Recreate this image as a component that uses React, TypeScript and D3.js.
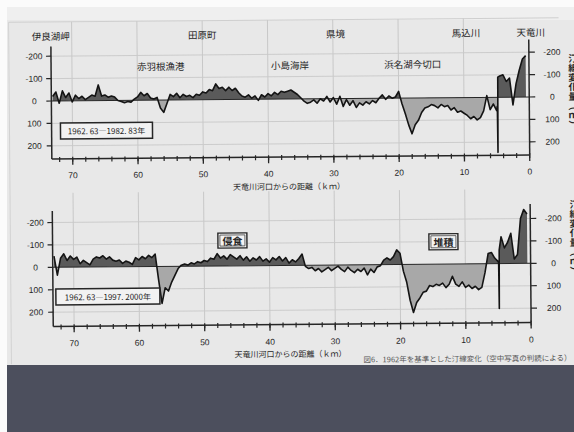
import * as d3 from "d3";

const KM_FIRST = 73;
const KM_STEP = 0.5;

const majorKm = [70, 60, 50, 40, 30, 20, 10, 0];
const minorKm = d3.range(0, 73, 2);
const yTickValues = [-200, -100, 0, 100, 200];
const gridValues = [-200, -100, 100, 200];

// shoreline change (m), read every 0.5 km from 73 km down to 0.5 km
// negative = upward on the chart
const topValues = [
  -20, -40, 10, -45, -15, -35, 5, -25, -10, -20,
  -5, -15, -25, -20, -70, -20, -25, -15, -20, -15,
  0, 5, 10, 5, 8, -5, -15, -35, -20, -30,
  -10, -5, -12, 35, 55, 15, -25, -15, -30, -10,
  -25, -15, -20, -10, -25, -20, -35, -30, -45, -40,
  -70, -50, -55, -40, -55, -40, -50, -30, -15, -10,
  -20, -5, -15, 5, -20, -10, -25, -15, -30, -20,
  -35, -30, -35, -40, -30, -20, -5, 10, 20, 15,
  5, 20, 0, 10, -10, 15, -5, 25, -10, 35,
  5, 30, 10, 40, 20, 30, 15, 25, 10, 20,
  0, -15, 5, -10, 0, -5, -30, 25, 70, 120,
  160, 120, 100, 65, 45, 40, 30, 35, 45, 30,
  40, 35, 55, 45, 65, 60, 70, 80, 95, 85,
  100, 90, 60, -8, 55, 30, 60, -95, -100, -70,
  -85, 35, -60, -120, -170, -185,
];

const bottomValues = [
  -50, 35, -40, -60, -30, -50, -35, -45, -15, -30,
  -20, -10, -35, -45, -40, -50, -35, -45, -30, -25,
  -30, -15, -25, -20, -10, -40, -30, -45, -35, -50,
  -40, -55, 60, 165, 95, 110, 70, 40, 10, -5,
  -10, -5, -15, -10, -20, -15, -25, -20, -35, -30,
  -55, -35, -45, -30, -50, -40, -30, -45, -25, -40,
  -20, -35, -25, -40, -20, -30, -15, -35, -25, -40,
  -20, -35, -10, -25, -15, -30, -50, 5, 15, 10,
  25, 15, 30, 20, 10, 25, 15, 5, 20, 30,
  10, 25, 35, 20, 30, 15, 45, 20, 35, 10,
  5, -20, -30, -20, -35, -65, -50, 30, 80, 160,
  215, 170, 150, 125, 120, 95, 100, 90, 95, 85,
  105, 90, 55, 90, 100, 80, 105, 95, 110, 100,
  115, 105, 40, -45, -50, -25, -10, -120, -70, -95,
  -135, -20, -40, -200, -240, -220,
];

// the narrow spike at the 馬込川 mouth
const topSpike: [number, number][] = [[4.9, 40], [4.85, 246], [4.8, -90]];
const bottomSpike: [number, number][] = [[4.9, -5], [4.85, 200], [4.8, -60]];

const upperPlaces = [
  { name: "伊良湖岬", km: 73.2 },
  { name: "田原町", km: 50.0 },
  { name: "県境", km: 29.6 },
  { name: "馬込川", km: 9.6 },
  { name: "天竜川", km: -0.3 },
];
const lowerPlaces = [
  { name: "赤羽根漁港", km: 56.4 },
  { name: "小島海岸", km: 36.6 },
  { name: "浜名湖今切口", km: 17.8 },
];

const topPeriod = "1962. 63―1982. 83年";
const bottomPeriod = "1962. 63―1997. 2000年";
const axisTitle = "天竜川河口からの距離（ｋｍ）";
const valueTitle = "汀線変化量（ｍ）";
const erosionTag = "侵食";
const depositTag = "堆積";
const caption = "図6．1962年を基準とした汀線変化（空中写真の判読による）";

const JP = "'Noto Sans CJK JP', 'Noto Sans', sans-serif";
const NUM = "'Liberation Sans', Arial, sans-serif";
const INK = "#262626";

type Pt = { km: number; v: number };

function toPoints(values: number[], spike: [number, number][]): Pt[] {
  const pts = values.map((v, i) => ({ km: KM_FIRST - i * KM_STEP, v }));
  spike.forEach(([km, v]) => pts.push({ km, v }));
  return pts.sort((a, b) => b.km - a.km);
}

type Layout = {
  yMinus: number; // pixel of -200
  yPlus: number; // pixel of 200
  top: number;
  bottom: number;
  gridTop: number;
  tickLabelY: number;
  titleY: number;
  sideY: number;
};

function Tag({ cx, cy, w, h, text }: { cx: number; cy: number; w: number; h: number; text: string }) {
  return (
    <g>
      <rect x={cx - w / 2} y={cy - h / 2} width={w} height={h} fill="#f3f3f3" stroke={INK} strokeWidth={1.4} />
      <rect x={cx - w / 2 + 2} y={cy - h / 2 + 2} width={w - 4} height={h - 4} fill="none" stroke={INK} strokeWidth={0.7} />
      <text x={cx} y={cy} textAnchor="middle" dominantBaseline="central" fontFamily={JP} fontSize={10} fontWeight={700} fill={INK}>
        {text}
      </text>
    </g>
  );
}

function Panel({ id, points, layout, period, box, children }: {
  id: string; points: Pt[]; layout: Layout; period: string;
  box: { x: number; y: number; w: number; h: number }; children?: any;
}) {
  const x = d3.scaleLinear().domain([0, 70]).range([530, 73]);
  const y = d3.scaleLinear().domain([-200, 200]).range([layout.yMinus, layout.yPlus]);
  const xl = x(73.2);
  const xr = x(0);
  const y0 = y(0);

  const area = d3.area<Pt>().x((d) => x(d.km)).y0(y0).y1((d) => y(d.v));
  const line = d3.line<Pt>().x((d) => x(d.km)).y((d) => y(d.v));
  const areaPath = area(points) || "";
  const linePath = line(points) || "";

  return (
    <g>
      <defs>
        <clipPath id={`${id}-neg`}>
          <rect x={xl} y={layout.top} width={xr - xl} height={y0 - layout.top} />
        </clipPath>
        <clipPath id={`${id}-pos`}>
          <rect x={xl} y={y0} width={xr - xl} height={layout.bottom - y0} />
        </clipPath>
      </defs>

      {/* grid */}
      {majorKm.filter((k) => k > 0).map((k) => (
        <line key={`vg${k}`} x1={x(k)} x2={x(k)} y1={layout.gridTop} y2={layout.bottom} stroke="#c4c4c4" strokeWidth={0.9} />
      ))}
      {gridValues.map((v) => (
        <line key={`hg${v}`} x1={xl} x2={xr} y1={y(v)} y2={y(v)} stroke="#c9c9c9" strokeWidth={0.9} />
      ))}

      {/* filled change */}
      <path d={areaPath} fill="#5a5a5a" clipPath={`url(#${id}-neg)`} />
      <path d={areaPath} fill="#a8a8a8" clipPath={`url(#${id}-pos)`} />
      <line x1={xl} x2={xr} y1={y0} y2={y0} stroke={INK} strokeWidth={1} />
      <path d={linePath} fill="none" stroke="#141414" strokeWidth={1.6} strokeLinejoin="round" />

      {/* axes */}
      <line x1={xl} x2={xl} y1={layout.top} y2={layout.bottom} stroke={INK} strokeWidth={1.5} />
      <line x1={xr} x2={xr} y1={layout.top - 3} y2={layout.bottom} stroke={INK} strokeWidth={1.5} />
      <line x1={xl} x2={xr} y1={layout.bottom} y2={layout.bottom} stroke={INK} strokeWidth={1.5} />

      {yTickValues.map((v) => (
        <g key={`yt${v}`}>
          <line x1={xl - 5} x2={xl} y1={y(v)} y2={y(v)} stroke={INK} strokeWidth={1.2} />
          <line x1={xr} x2={xr + 6} y1={y(v)} y2={y(v)} stroke={INK} strokeWidth={1.2} />
          <text x={35} y={y(v)} textAnchor="middle" dominantBaseline="central" fontFamily={NUM} fontSize={8.5} fill={INK}>
            {v < 0 ? `-${-v}` : v}
          </text>
          <text x={553} y={y(v)} textAnchor="middle" dominantBaseline="central" fontFamily={NUM} fontSize={8.5} fill={INK}>
            {v < 0 ? `-${-v}` : v}
          </text>
        </g>
      ))}

      {minorKm.map((k) => (
        <line key={`mt${k}`} x1={x(k)} x2={x(k)} y1={layout.bottom - 2} y2={layout.bottom + 3} stroke={INK} strokeWidth={1.2} />
      ))}
      {majorKm.map((k) => (
        <g key={`xt${k}`}>
          <line x1={x(k)} x2={x(k)} y1={layout.bottom} y2={layout.bottom + 6} stroke={INK} strokeWidth={1.3} />
          <text x={x(k)} y={layout.tickLabelY} textAnchor="middle" fontFamily={NUM} fontSize={8.5} fill={INK}>
            {k}
          </text>
        </g>
      ))}

      <text x={289} y={layout.titleY} textAnchor="middle" fontFamily={JP} fontSize={8} fill={INK}>
        {axisTitle}
      </text>
      <text x={574} y={layout.sideY} textAnchor="middle" fontFamily={JP} fontSize={9.5} fontWeight={700} fill={INK}
        style={{ writingMode: "vertical-rl" }}>
        {valueTitle}
      </text>

      <rect x={box.x} y={box.y} width={box.w} height={box.h} fill="#f2f2f2" stroke={INK} strokeWidth={1.5} />
      <text x={box.x + box.w / 2} y={box.y + box.h / 2} textAnchor="middle" dominantBaseline="central"
        fontFamily={JP} fontSize={8} fill={INK}>
        {period}
      </text>
      {children}
    </g>
  );
}

export default function App() {
  const x = d3.scaleLinear().domain([0, 70]).range([530, 73]);
  const topPts = toPoints(topValues, topSpike);
  const bottomPts = toPoints(bottomValues, bottomSpike);

  const topLayout: Layout = {
    yMinus: 54.2, yPlus: 143.8, top: 44.5, bottom: 157, gridTop: 20,
    tickLabelY: 176.5, titleY: 189.5, sideY: 94,
  };
  const bottomLayout: Layout = {
    yMinus: 220.5, yPlus: 310.2, top: 209, bottom: 324.5, gridTop: 191,
    tickLabelY: 344.5, titleY: 357, sideY: 240,
  };

  return (
    <svg width={574} height={432} style={{ position: "absolute", left: 0, top: 0, display: "block" }}>
      <rect x={0} y={0} width={574} height={432} fill="#fbfbfb" />
      <rect x={7} y={7} width={567} height={358} fill="#e8e8e8" />
      <rect x={7} y={7} width={567} height={13} fill="#efefef" />
      <g transform="rotate(-0.48, 291, 190)">
        <line x1={10} x2={560} y1={20} y2={20} stroke="#cfcfcf" strokeWidth={1} />
        <line x1={10} x2={10} y1={20} y2={362} stroke="#d2d2d2" strokeWidth={1} />

        <Panel id="top" points={topPts} layout={topLayout} period={topPeriod} box={{ x: 61, y: 121, w: 92, h: 16 }}>
          {upperPlaces.map((p) => (
            <text key={p.name} x={x(p.km)} y={34} textAnchor="middle" dominantBaseline="central"
              fontFamily={JP} fontSize={9.5} fill={INK}>{p.name}</text>
          ))}
          {lowerPlaces.map((p) => (
            <text key={p.name} x={x(p.km)} y={65} textAnchor="middle" dominantBaseline="central"
              fontFamily={JP} fontSize={9.5} fill={INK}>{p.name}</text>
          ))}
        </Panel>

        <Panel id="bottom" points={bottomPts} layout={bottomLayout} period={bottomPeriod} box={{ x: 55, y: 287, w: 104, h: 16 }}>
          <Tag cx={232} cy={240} w={29} h={15} text={erosionTag} />
          <Tag cx={443} cy={243} w={29} h={16} text={depositTag} />
        </Panel>

        <text x={362} y={363} fontFamily={JP} fontSize={7.5} fill="#555">{caption}</text>
      </g>
      <rect x={7} y={365} width={567} height={67} fill="#4c4f5d" />
    </svg>
  );
}
